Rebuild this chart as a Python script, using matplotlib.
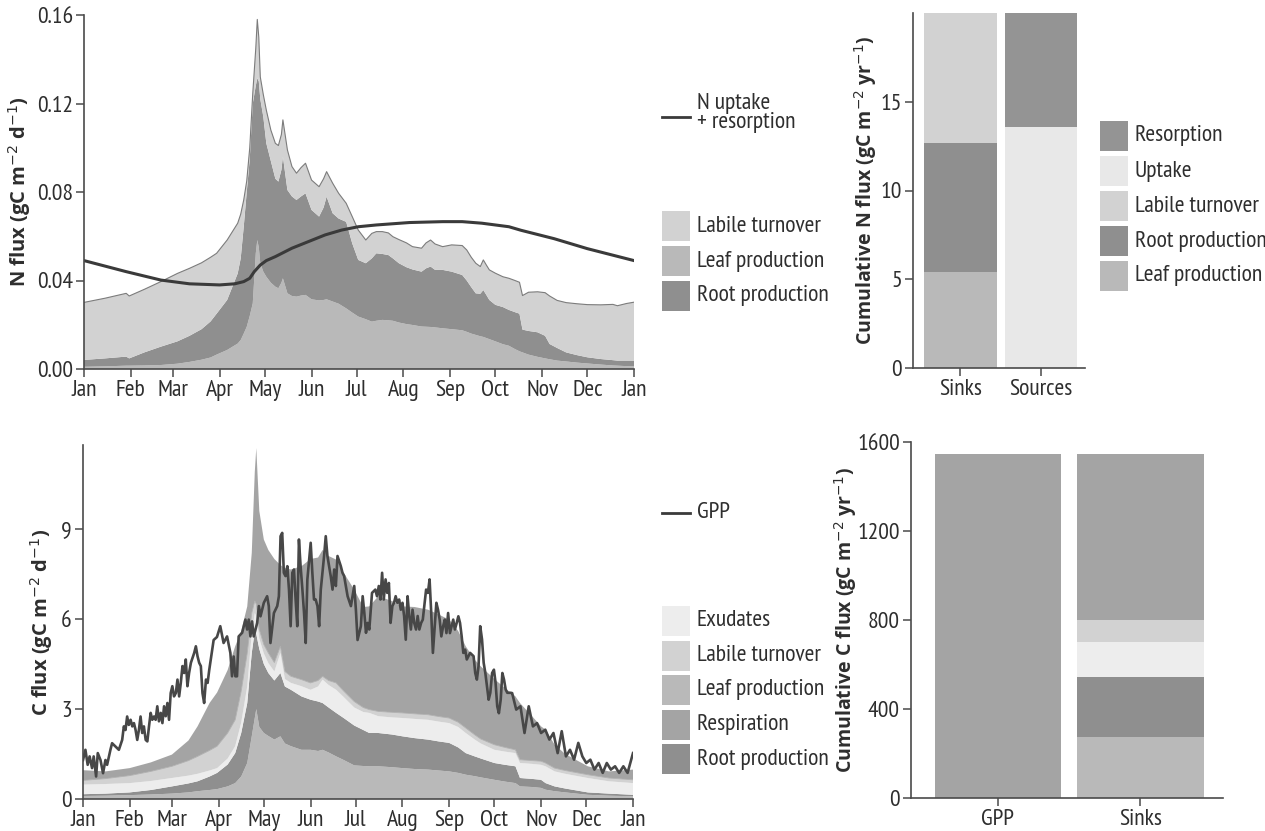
import numpy as np
import matplotlib
matplotlib.use('Agg')
import matplotlib.pyplot as plt
from matplotlib.patches import Rectangle
from matplotlib.lines import Line2D
from matplotlib import font_manager

# ---- data ----
months = ['Jan', 'Feb', 'Mar', 'Apr', 'May', 'Jun', 'Jul', 'Aug', 'Sep', 'Oct', 'Nov', 'Dec', 'Jan']
month_days = [0, 31, 59, 90, 120, 151, 181, 212, 243, 273, 304, 334, 365]

# N flux stack (tops of each layer, gC m-2 d-1)
n_days = [0, 14, 28, 30, 40, 51, 62, 70, 78, 84, 88, 95, 102, 104, 106, 108, 110, 112, 114, 115,
          116, 117, 119, 121, 124, 127, 129, 131, 132, 135, 138, 141, 144, 147, 151, 156, 159, 161, 165, 169,
          174, 178, 182, 187, 191, 194, 198, 202, 205, 209, 214, 218, 224, 227, 230, 233, 238, 244, 251, 254,
          257, 260, 263, 265, 267, 269, 273, 278, 282, 286, 289, 291, 295, 301, 306, 309, 314, 320, 327, 334,
          343, 351, 354, 360, 365]
n_total = [.0301, .0320, .0342, .0330, .0360, .0395, .0432, .0455, .0480, .0505, .0523, .0583, .0659, .0700, .0764, .0850, .1000, .1246, .1450, .1580,
           .1500, .1320, .1240, .1170, .1080, .1020, .1010, .1060, .1126, .0990, .0915, .0885, .0910, .0930, .0854, .0824, .0860, .0892, .0840, .0794,
           .0749, .0689, .0628, .0583, .0613, .0621, .0621, .0615, .0598, .0585, .0570, .0553, .0546, .0570, .0583, .0565, .0553, .0561, .0558, .0538,
           .0505, .0478, .0463, .0493, .0470, .0448, .0433, .0417, .0410, .0400, .0392, .0332, .0347, .0349, .0345, .0330, .0310, .0300, .0295, .0291,
           .0290, .0292, .0286, .0296, .0302]
n_root_top = [.0041, .0048, .0056, .0048, .0075, .0101, .0125, .0150, .0180, .0215, .0250, .0312, .0432, .0500, .0643, .0800, .0950, .1200, .1280, .1314,
              .1300, .1220, .1140, .1020, .0940, .0860, .0847, .0900, .0960, .0809, .0780, .0764, .0780, .0794, .0719, .0689, .0730, .0779, .0704, .0680,
              .0665, .0568, .0493, .0478, .0500, .0523, .0520, .0515, .0500, .0478, .0460, .0450, .0440, .0455, .0463, .0448, .0448, .0440, .0425, .0400,
              .0370, .0342, .0340, .0357, .0335, .0312, .0290, .0280, .0267, .0257, .0250, .0178, .0172, .0166, .0150, .0113, .0095, .0075, .0063, .0053,
              .0045, .0040, .0038, .0038, .0038]
n_leaf_top = [.0010, .0012, .0015, .0015, .0016, .0018, .0024, .0032, .0042, .0052, .0065, .0086, .0115, .0131, .0160, .0191, .0240, .0297, .0523, .0583,
              .0550, .0478, .0440, .0417, .0390, .0372, .0365, .0390, .0410, .0342, .0330, .0327, .0332, .0335, .0315, .0310, .0312, .0315, .0305, .0295,
              .0274, .0255, .0237, .0225, .0214, .0218, .0222, .0220, .0218, .0210, .0203, .0199, .0192, .0191, .0190, .0188, .0184, .0180, .0175, .0168,
              .0160, .0154, .0148, .0145, .0140, .0135, .0125, .0112, .0105, .0090, .0080, .0075, .0065, .0055, .0048, .0044, .0038, .0034, .0029, .0025,
              .0020, .0016, .0015, .0013, .0012]

# N uptake + resorption line
nline_days = [0, 28, 51, 70, 90, 100, 106, 110, 113, 117, 121, 127, 138, 149, 160, 171, 182, 194, 216, 238, 251, 264, 282, 290, 312, 334, 365]
nline_vals = [.0490, .0440, .0402, .0385, .0380, .0385, .0395, .0410, .0440, .0470, .0490, .0508, .0546, .0576, .0606, .0628, .0643, .0651, .0662, .0666,
              .0666, .0659, .0643, .0627, .0589, .0544, .0490]

# C flux stack (tops of each layer, gC m-2 d-1)
c_days = [0, 15, 31, 45, 59, 70, 76, 84, 89, 96, 101, 105, 109, 112, 114, 115, 117, 120, 123, 127,
          131, 134, 138, 145, 151, 156, 159, 163, 168, 173, 180, 186, 190, 196, 205, 212, 220, 229, 236, 243,
          249, 254, 260, 264, 273, 280, 287, 290, 298, 304, 307, 313, 320, 335, 349, 365]
c_leaf_top = [.10, .11, .13, .15, .18, .22, .26, .30, .33, .42, .53, .75, 1.20, 2.09, 2.70, 3.00, 2.40, 2.20, 2.10, 1.98,
              2.09, 1.85, 1.76, 1.64, 1.64, 1.60, 1.64, 1.55, 1.42, 1.30, 1.12, 1.10, 1.09, 1.09, 1.06, 1.03, 1.00, .98, .95, .92,
              .87, .81, .76, .72, .64, .58, .53, .42, .40, .37, .31, .26, .22, .14, .11, .09]
c_root_top = [.16, .18, .22, .30, .42, .52, .59, .75, .87, 1.15, 1.53, 2.20, 3.20, 4.87, 5.60, 5.50, 5.00, 4.50, 4.20, 3.95,
              4.20, 3.75, 3.64, 3.42, 3.31, 3.25, 3.20, 3.05, 2.87, 2.70, 2.45, 2.30, 2.20, 2.20, 2.15, 2.09, 2.03, 1.98, 1.92, 1.87,
              1.72, 1.53, 1.42, 1.35, 1.20, 1.14, 1.09, .70, .67, .64, .53, .42, .35, .22, .18, .14]
c_exud_top = [.48, .50, .53, .60, .70, .78, .84, .95, 1.03, 1.35, 1.76, 2.55, 3.76, 5.53, 6.20, 6.10, 5.35, 4.85, 4.53, 4.25,
              4.87, 4.00, 3.87, 3.76, 3.64, 3.75, 3.98, 3.80, 3.64, 3.40, 3.05, 2.90, 2.87, 2.76, 2.72, 2.70, 2.67, 2.64, 2.58, 2.53,
              2.40, 2.20, 1.98, 1.85, 1.64, 1.58, 1.53, 1.20, 1.17, 1.14, 1.09, .92, .84, .70, .59, .53]
c_labile_top = [.62, .68, .78, .92, 1.09, 1.28, 1.42, 1.62, 1.76, 2.20, 2.64, 3.60, 4.87, 6.20, 6.60, 6.50, 5.65, 5.15, 4.87, 4.55,
                5.09, 4.25, 4.09, 3.98, 3.87, 3.95, 4.09, 3.95, 3.87, 3.60, 3.25, 3.05, 2.98, 2.92, 2.89, 2.87, 2.84, 2.81, 2.75, 2.70,
                2.56, 2.37, 2.14, 2.00, 1.81, 1.72, 1.64, 1.31, 1.28, 1.26, 1.20, 1.03, .95, .81, .70, .64]
c_total = [.96, .92, 1.03, 1.22, 1.48, 1.95, 2.42, 3.20, 3.55, 4.30, 5.09, 5.60, 6.42, 8.20, 10.90, 11.70, 9.60, 8.65, 8.30, 8.00,
           7.80, 7.70, 7.65, 7.76, 8.00, 8.05, 8.30, 8.10, 7.98, 7.54, 6.98, 6.40, 6.42, 6.76, 6.60, 6.42, 6.40, 6.31, 6.15, 5.98,
           5.60, 5.09, 4.64, 4.42, 4.00, 3.70, 3.42, 3.20, 2.76, 2.42, 2.31, 1.81, 1.50, 1.09, .92, .98]

# GPP (daily, read at roughly 1-2 day spacing)
gpp_days = [0, 1.6, 3.1, 4.4, 6.0, 7.1, 8.7, 9.8, 11.6, 13.3, 14.9, 16.0, 18.2, 19.3, 21.6, 23.8, 26.0, 27.1, 28.2, 29.3,
            30.4, 31.6, 32.7, 33.8, 34.9, 36.0, 37.1, 38.2, 39.3, 40.4, 41.6, 42.7, 43.8, 44.9, 46.0, 47.1, 48.2, 49.3, 50.4, 51.6,
            52.7, 53.8, 54.9, 56.0, 57.1, 58.2, 59.3, 60.4, 61.6, 62.7, 63.8, 64.9, 66.0, 67.1, 68.2, 69.3, 70.4, 71.6, 73.8, 74.9,
            76.0, 77.1, 78.2, 79.3, 80.4, 81.6, 82.7, 83.8, 86.7, 88.9, 91.1, 93.3, 95.6, 97.8, 98.9, 100.0, 101.1, 102.2, 103.3, 105.6,
            107.8, 108.9, 110.0, 111.1, 112.2, 113.3, 115.6, 116.7, 117.8, 120.0, 122.2, 123.3, 124.4, 126.7, 128.9, 130.0, 131.1, 132.2, 133.3, 134.4,
            135.6, 136.7, 137.8, 138.9, 140.0, 141.1, 142.2, 143.3, 144.4, 145.6, 146.7, 147.8, 148.9, 151.1, 152.2, 153.3, 154.4, 155.6, 156.7, 157.8,
            160.0, 161.1, 162.2, 163.3, 164.4, 165.6, 166.7, 167.8, 168.9, 171.1, 172.2, 173.3, 175.6, 177.8, 180.0, 181.1, 182.2, 184.4, 185.6, 186.7,
            187.8, 188.9, 190.0, 191.8, 194.0, 195.1, 196.3, 197.4, 198.5, 199.6, 200.8, 201.9, 203.0, 204.1, 205.3, 206.4, 207.5, 208.6, 209.8, 210.9,
            212.0, 213.1, 214.2, 215.4, 216.5, 217.6, 218.7, 219.8, 221.0, 222.1, 223.2, 224.4, 225.5, 227.7, 228.9, 230.0, 231.1, 232.2, 233.4, 234.5,
            235.6, 236.7, 237.8, 239.0, 240.1, 241.2, 242.3, 243.5, 244.6, 245.7, 246.8, 248.0, 249.1, 250.2, 251.3, 252.4, 253.6, 254.7, 256.9, 259.2,
            260.3, 261.4, 262.5, 263.6, 264.8, 265.9, 267.0, 268.1, 269.2, 270.3, 271.5, 272.7, 273.8, 274.9, 276.0, 277.2, 278.3, 279.4, 280.5, 281.6,
            283.9, 284.8, 287.5, 290.3, 293.0, 295.8, 298.6, 301.3, 304.0, 306.8, 309.5, 312.2, 315.0, 317.7, 320.5, 323.2, 325.9, 328.7, 331.4, 334.0,
            336.7, 339.4, 342.2, 344.9, 347.6, 350.3, 353.1, 355.8, 358.6, 361.4, 365.0]
gpp = [1.30, 1.64, 1.14, 1.42, 1.03, 1.42, 0.75, 1.53, 1.30, 0.86, 1.30, 1.14, 1.64, 1.86, 1.75, 1.64, 1.97, 2.42, 2.30, 2.75,
       2.47, 2.64, 2.42, 2.53, 2.30, 1.97, 2.30, 2.75, 2.20, 2.42, 1.97, 1.92, 2.42, 2.87, 2.64, 2.75, 2.64, 3.09, 2.59, 2.87,
       2.53, 3.09, 2.76, 3.20, 2.64, 3.53, 3.76, 3.42, 3.53, 3.98, 3.42, 3.87, 4.43, 4.20, 4.65, 3.76, 4.20, 4.54, 4.87, 5.09,
       4.76, 4.54, 4.43, 3.53, 3.20, 3.98, 3.87, 4.31, 5.30, 5.40, 5.76, 5.20, 5.42, 4.87, 4.09, 4.75, 4.09, 4.09, 5.42, 5.54,
       5.98, 5.65, 5.98, 5.42, 5.92, 5.42, 5.87, 6.43, 6.09, 6.54, 6.76, 6.43, 5.20, 6.20, 6.43, 6.76, 8.76, 8.87, 7.54, 7.43,
       7.76, 6.98, 5.76, 7.54, 7.65, 6.65, 5.76, 8.65, 7.76, 6.98, 6.20, 5.20, 7.32, 8.54, 7.54, 6.65, 6.65, 6.43, 5.76, 6.98,
       8.10, 8.76, 8.10, 7.76, 7.43, 6.98, 7.65, 7.10, 8.10, 7.76, 7.54, 7.43, 6.76, 6.43, 7.10, 6.31, 5.30, 5.76, 6.76, 6.20,
       5.54, 5.87, 5.65, 6.87, 6.98, 6.76, 7.10, 6.65, 7.54, 6.65, 7.32, 6.87, 7.20, 5.87, 6.43, 6.54, 6.76, 6.54, 6.65, 6.31,
       6.54, 6.10, 5.31, 6.76, 6.10, 5.65, 6.31, 5.87, 5.65, 6.10, 5.65, 5.87, 5.98, 6.98, 6.87, 7.32, 6.20, 4.87, 5.76, 6.54,
       6.31, 5.98, 5.42, 5.76, 5.98, 5.53, 6.20, 5.53, 5.76, 5.98, 5.65, 5.87, 6.09, 5.87, 5.42, 4.87, 4.98, 4.65, 4.87, 4.76,
       4.20, 3.98, 4.43, 5.76, 5.32, 4.54, 4.20, 3.76, 3.31, 3.54, 4.20, 4.31, 3.87, 3.09, 2.86, 3.31, 4.20, 3.98, 3.65, 3.54,
       3.54, 3.53, 2.98, 3.09, 2.20, 3.09, 2.42, 2.53, 2.20, 2.31, 1.98, 2.20, 1.53, 2.26, 1.42, 1.64, 1.31, 1.87, 1.42, 1.20,
       1.31, 0.98, 1.20, 0.87, 1.20, 0.98, 1.09, 0.87, 1.09, 0.87, 1.53]

# cumulative bars
n_bar_names = ['Sinks', 'Sources']
n_sinks = [5.4, 7.3, 7.3]          # leaf, root, labile
n_sources = [13.6, 6.4]            # uptake, resorption
c_bar_names = ['GPP', 'Sinks']
c_gpp = 1546
c_sinks = [276, 266, 161, 96, 747]  # leaf, root, exudates, labile, respiration

# ---- styling ----
LABILE = '#d2d2d2'
LEAF = '#b9b9b9'
ROOT = '#8f8f8f'
UPTAKE = '#e8e8e8'
RESORP = '#949494'
EXUD = '#ededed'
RESP = '#a4a4a4'
LINE = '#3a3a3a'
AXC = '#4a4a4a'
TXT = '#2e2e2e'

names = {f.name for f in font_manager.fontManager.ttflist}
COND = 'DejaVu Sans'
for cand in ['PT Sans Narrow', 'Fira Sans Condensed', 'Asap Condensed', 'Barlow Semi Condensed']:
    if cand in names:
        COND = cand
        break
BOLD = 'Open Sans' if 'Open Sans' in names else 'DejaVu Sans'
plt.rcParams['font.family'] = [COND, 'DejaVu Sans']

W, H = 1265, 831
fig = plt.figure(figsize=(W / 100, H / 100), dpi=100)


def px_axes(l, t, r, b):
    return fig.add_axes([l / W, 1 - b / H, (r - l) / W, (b - t) / H])


def style(ax):
    for s in ['top', 'right']:
        ax.spines[s].set_visible(False)
    for s in ['left', 'bottom']:
        ax.spines[s].set_color(AXC)
        ax.spines[s].set_linewidth(1.2)
        ax.spines[s].set_zorder(5)
    ax.tick_params(direction='out', length=6, width=1.1, color=AXC, labelsize=17,
                   labelcolor=TXT, pad=2)


def legend_col(x, centers, labels, colors, w=28, h=30):
    for yc, lab, c in zip(centers, labels, colors):
        fig.add_artist(Rectangle((x / W, 1 - (yc + h / 2) / H), w / W, h / H,
                                 transform=fig.transFigure, facecolor=c, edgecolor='none'))
        fig.text((x + w + 7) / W, 1 - yc / H, lab, va='center', ha='left',
                 fontsize=17, color=TXT)


def legend_line(x, y, label, ty=None, w=28):
    fig.add_artist(Line2D([x / W, (x + w) / W], [1 - y / H, 1 - y / H], color=LINE, lw=2.0,
                          transform=fig.transFigure))
    fig.text((x + w + 7) / W, 1 - (ty if ty else y) / H, label, va='center', ha='left',
             fontsize=17, color=TXT, linespacing=0.9)


# ---- N flux time series ----
ax1 = px_axes(84, 15, 634, 369)
nd = np.array(n_days)
nleaf = np.array(n_leaf_top)
nroot = np.array(n_root_top)
ntot = np.array(n_total)
ax1.stackplot(nd, nleaf, nroot - nleaf, ntot - nroot, colors=[LEAF, ROOT, LABILE], lw=0)
ax1.plot(nd, ntot, color='#7c7c7c', lw=0.8)
ax1.plot(nline_days, nline_vals, color=LINE, lw=2.2)
ax1.set_xlim(0, 365)
ax1.set_ylim(0, 0.16)
ax1.set_yticks([0, 0.04, 0.08, 0.12, 0.16])
ax1.set_yticklabels(['0.00', '0.04', '0.08', '0.12', '0.16'])
ax1.set_xticks(month_days)
ax1.set_xticklabels(months)
style(ax1)
fig.text(20 / W, 1 - 192 / H, 'N flux (gC m$^{-2}$ d$^{-1}$)', rotation=90, ha='center', va='center',
         fontsize=14.5, fontweight='bold', family=BOLD, color=TXT)

legend_line(662, 117, 'N uptake\n+ resorption', ty=113)
legend_col(662, [226, 261, 296], ['Labile turnover', 'Leaf production', 'Root production'],
           [LABILE, LEAF, ROOT])

# ---- N cumulative bars ----
ax2 = px_axes(913, 13, 1085, 368)
ax2.bar(0, n_sinks[0], width=0.9, color=LEAF)
ax2.bar(0, n_sinks[1], bottom=n_sinks[0], width=0.9, color=ROOT)
ax2.bar(0, n_sinks[2], bottom=n_sinks[0] + n_sinks[1], width=0.9, color=LABILE)
ax2.bar(1, n_sources[0], width=0.9, color=UPTAKE)
ax2.bar(1, n_sources[1], bottom=n_sources[0], width=0.9, color=RESORP)
ax2.set_xlim(-0.59, 1.55)
ax2.set_ylim(0, 20.0)
ax2.set_yticks([0, 5, 10, 15])
ax2.set_xticks([0, 1])
ax2.set_xticklabels(n_bar_names)
style(ax2)
fig.text(866 / W, 1 - 190 / H, 'Cumulative N flux (gC m$^{-2}$ yr$^{-1}$)', rotation=90, ha='center',
         va='center', fontsize=14, fontweight='bold', family=BOLD, color=TXT)
legend_col(1100, [136, 171, 206, 241, 276],
           ['Resorption', 'Uptake', 'Labile turnover', 'Root production', 'Leaf production'],
           [RESORP, UPTAKE, LABILE, ROOT, LEAF])

# ---- C flux time series ----
ax3 = px_axes(83, 445, 633, 799)
cd = np.array(c_days)
cl = np.array(c_leaf_top)
cr = np.array(c_root_top)
ce = np.array(c_exud_top)
cb = np.array(c_labile_top)
ct = np.array(c_total)
ax3.stackplot(cd, cl, cr - cl, ce - cr, cb - ce, ct - cb, colors=[LEAF, ROOT, EXUD, LABILE, RESP], lw=0)
ax3.plot(cd, cb, color='#b0b0b0', lw=0.6)
ax3.plot(gpp_days, gpp, color='#474747', lw=1.9)
ax3.set_xlim(0, 365)
ax3.set_ylim(0, 11.8)
ax3.set_yticks([0, 3, 6, 9])
ax3.set_xticks(month_days)
ax3.set_xticklabels(months)
style(ax3)
fig.text(42 / W, 1 - 622 / H, 'C flux (gC m$^{-2}$ d$^{-1}$)', rotation=90, ha='center', va='center',
         fontsize=14.5, fontweight='bold', family=BOLD, color=TXT)

legend_line(662, 513, 'GPP')
legend_col(662, [621, 655.5, 690, 724.5, 759],
           ['Exudates', 'Labile turnover', 'Leaf production', 'Respiration', 'Root production'],
           [EXUD, LABILE, LEAF, RESP, ROOT])

# ---- C cumulative bars ----
ax4 = px_axes(911, 442, 1223, 798)
ax4.bar(0, c_gpp, width=0.89, color=RESP)
bottom = 0
for v, c in zip(c_sinks, [LEAF, ROOT, EXUD, LABILE, RESP]):
    ax4.bar(1, v, bottom=bottom, width=0.89, color=c)
    bottom += v
ax4.set_xlim(-0.61, 1.58)
ax4.set_ylim(0, 1600)
ax4.set_yticks([0, 400, 800, 1200, 1600])
ax4.set_xticks([0, 1])
ax4.set_xticklabels(c_bar_names)
style(ax4)
fig.text(846 / W, 1 - 620 / H, 'Cumulative C flux (gC m$^{-2}$ yr$^{-1}$)', rotation=90, ha='center',
         va='center', fontsize=14, fontweight='bold', family=BOLD, color=TXT)

fig.savefig('out.png', dpi=100)
